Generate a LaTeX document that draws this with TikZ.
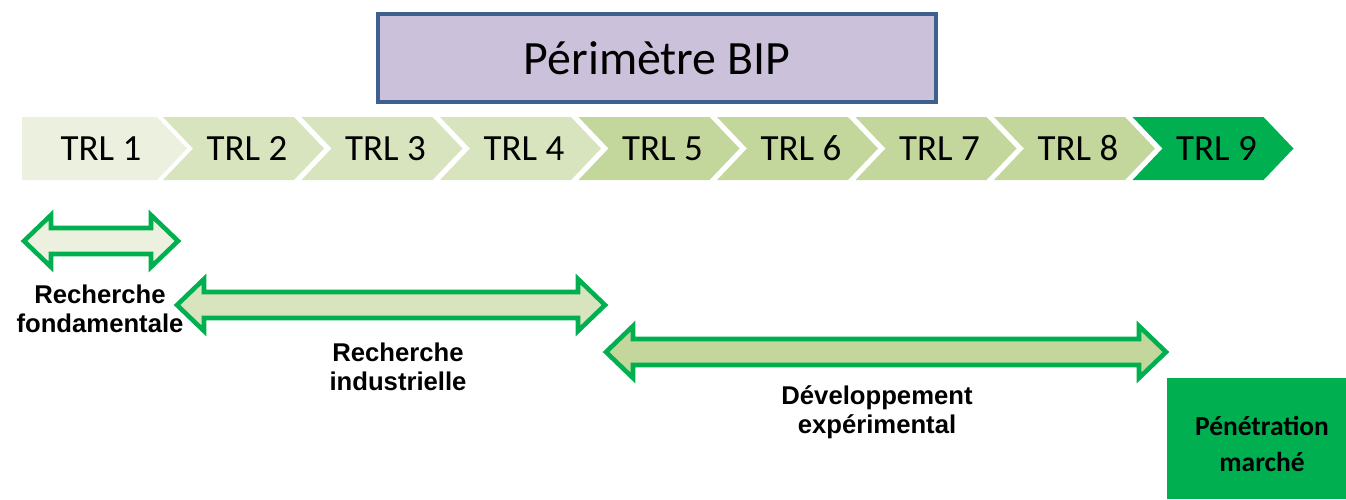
\documentclass[tikz,border=0pt]{standalone}
\usepackage{fontspec}
\setmainfont{Carlito}
\newfontfamily\arialf{Liberation Sans}
\definecolor{trlA}{HTML}{EBF1DE}
\definecolor{trlB}{HTML}{D7E4BD}
\definecolor{trlC}{HTML}{C3D69B}
\definecolor{gr}{HTML}{00B050}
\definecolor{bipfill}{HTML}{CCC1DA}
\definecolor{bipline}{HTML}{3F5F8E}
\tikzset{
  trltext/.style={font=\fontsize{10.5}{12}\selectfont, text=black, inner sep=0pt, anchor=base},
  arrowline/.style={draw=gr, line width=1.3pt, line join=miter},
  lab/.style={font=\arialf\bfseries\fontsize{7.3}{8.3}\selectfont, align=center, inner sep=0pt},
}
\newcommand\chevA[2]{% xl, fill (first: flat left)
  \fill[#2] (#1,117) -- (#1+135,117) -- (#1+165,148.5) -- (#1+135,180) -- (#1,180) -- cycle;}
\newcommand\chevB[2]{% xl, fill
  \fill[#2] (#1,117) -- (#1+131,117) -- (#1+161,148.5) -- (#1+131,180) -- (#1,180) -- (#1+30,148.5) -- cycle;}
\newcommand\darrow[4]{% x1, x2, yc, fill
  \draw[arrowline, fill=#4] (#1,#3) -- (#1+27,#3-26) -- (#1+27,#3-13) -- (#2-27,#3-13) -- (#2-27,#3-26) -- (#2,#3)
    -- (#2-27,#3+26) -- (#2-27,#3+13) -- (#1+27,#3+13) -- (#1+27,#3+26) -- cycle;}
\begin{document}
\begin{tikzpicture}[x=0.01cm,y=-0.01cm]
\useasboundingbox (0,0) rectangle (1346,499);
% BIP box
\node[draw=bipline, line width=1.2pt, fill=bipfill, minimum width=5.58cm, minimum height=0.88cm,
      font=\fontsize{13.6}{16}\selectfont, inner sep=0pt] (bip) at (657,58) {Périmètre BIP};
% chevrons
\chevA{22}{trlA}
\chevB{163}{trlB}
\chevB{301.5}{trlB}
\chevB{440}{trlB}
\chevB{578.5}{trlC}
\chevB{717}{trlC}
\chevB{855.5}{trlC}
\chevB{994}{trlC}
\chevB{1132.5}{gr}
\node[trltext] (t1) at (101,160) {TRL 1};
\node[trltext] (t2) at (247,160) {TRL 2};
\node[trltext] (t3) at (385.5,160) {TRL 3};
\node[trltext] (t4) at (524,160) {TRL 4};
\node[trltext] (t5) at (662.5,160) {TRL 5};
\node[trltext] (t6) at (801,160) {TRL 6};
\node[trltext] (t7) at (939.5,160) {TRL 7};
\node[trltext] (t8) at (1078,160) {TRL 8};
\node[trltext] (t9) at (1216.5,160) {TRL 9};
% double arrows
\darrow{24}{178}{241}{trlA}
\darrow{177}{605}{305}{trlB}
\darrow{606}{1166}{352}{trlC}
% labels
\node[lab] (l1) at (100,309) {Recherche\\fondamentale};
\node[lab] (l2) at (398,367) {Recherche\\industrielle};
\node[lab] (l3) at (877,412) {Développement\\expérimental};
% market box
\fill[gr] (1167,378) rectangle (1346,499);
\node[font=\bfseries\fontsize{7.8}{10.2}\selectfont, align=center, inner sep=0pt] (pm) at (1262,444) {Pénétration\\marché};
\end{tikzpicture}
\end{document}
